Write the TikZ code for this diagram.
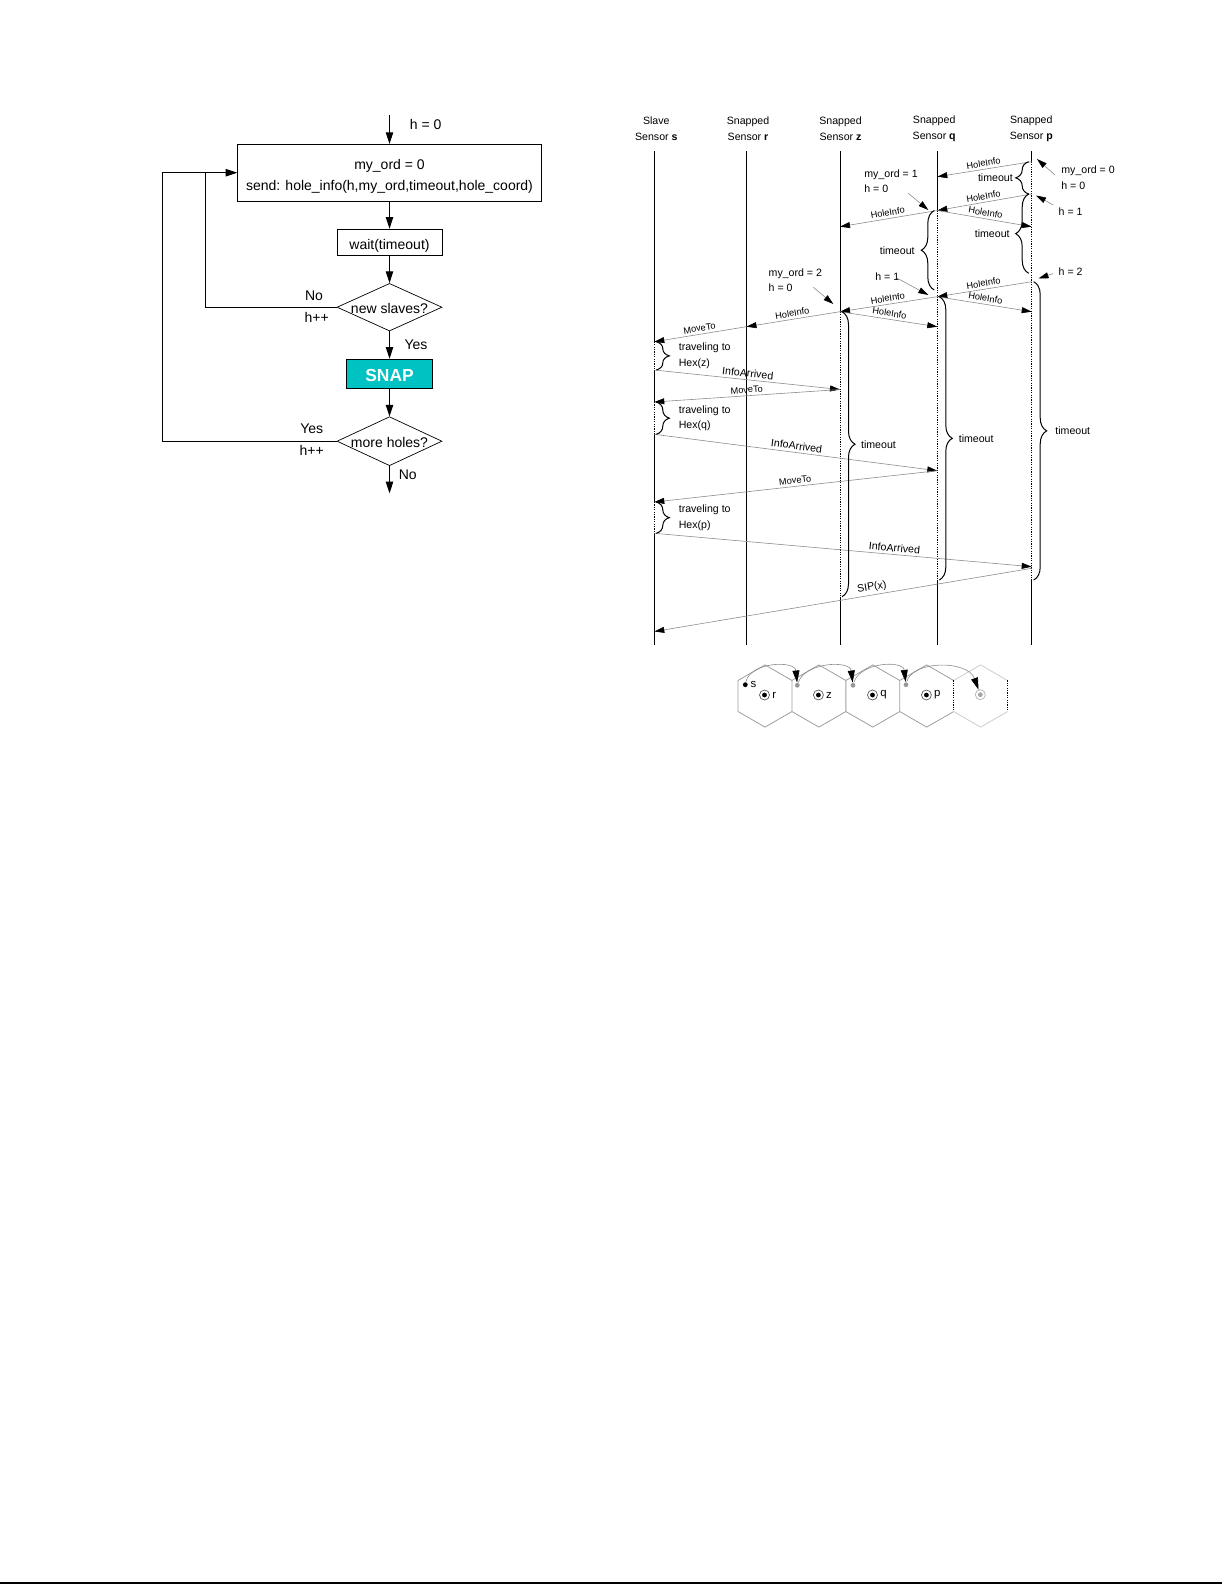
\documentclass[tikz,border=0pt]{standalone}
\usepackage{fontspec}
\setmainfont{Liberation Sans}
\usetikzlibrary{arrows.meta,shapes.geometric,decorations.pathreplacing,positioning}
\definecolor{snapcyan}{RGB}{0,194,194}

\begin{document}
\begin{tikzpicture}
	[x=0.5pt,y=-0.5pt,
	flow/.style={-{Triangle[length=5.8pt,width=3.7pt]},line width=0.5pt},
	box/.style={draw,line width=0.5pt,inner sep=0pt,font=\fontsize{7}{10.8}\selectfont},
	decision/.style={diamond,draw,line width=0.35pt,aspect=2.2,inner sep=0pt,
		text height=6pt,text depth=0pt,font=\fontsize{7}{8}\selectfont},
	note/.style={font=\fontsize{7}{8.4}\selectfont,inner sep=0pt},
	sensorhead/.style={align=center,font=\fontsize{5.3}{8.1}\selectfont},
	anno/.style={font=\fontsize{5.3}{7.8}\selectfont,inner sep=1pt},
	life/.style={line width=0.5pt},
	active/.style={line width=0.4pt,dash pattern=on 0.6pt off 0.6pt},
	msg/.style={draw=black!45,line width=0.3pt,-{Triangle[length=5pt,width=3pt,color=black]}},
	msglbl/.style={font=\fontsize{4.6}{5}\selectfont,inner sep=1.2pt},
	msgbig/.style={font=\fontsize{5.3}{6}\selectfont,inner sep=1.2pt},
	pointer/.style={draw=black!45,line width=0.3pt,-{Triangle[length=5pt,width=3pt,color=black]}},
	tbrace/.style={decorate,decoration={brace,amplitude=6.5pt},line width=0.5pt},
	hex/.style={draw=black!38,line width=0.4pt},
	hexoff/.style={draw=black!20,line width=0.4pt},
	blackdot/.style={circle,fill=black,inner sep=0pt,minimum size=2.4pt},
	greydot/.style={circle,fill=black!40,inner sep=0pt,minimum size=2.4pt},
	hexring/.style={circle,draw=black!65,line width=0.35pt,inner sep=0pt,minimum size=5pt,
		path picture={\fill (path picture bounding box.center) circle (1.2pt);}},
	greyring/.style={circle,draw=black!30,line width=0.35pt,inner sep=0pt,minimum size=5pt,
		path picture={\fill[black!35] (path picture bounding box.center) circle (1.2pt);}},
	hexlbl/.style={font=\fontsize{5.7}{6}\selectfont,inner sep=1pt},
	hop/.style={draw=black!45,line width=0.3pt,-{Triangle[length=6pt,width=3.5pt,color=black]}}]

	\useasboundingbox (0,0) rectangle (1225,1585);

	% flow chart of the snapped sensor
	\coordinate (start) at (389.5,115);
	\node[box,minimum width=151.7pt,minimum height=28.3pt,align=center,text height=18.1pt,text depth=0pt]
		(send) at (389.5,172.7) {my\_ord = 0\\send: hole\_info(h,my\_ord,timeout,hole\_coord)};
	\node[box,minimum width=52.5pt,minimum height=13pt,text height=7pt,text depth=0pt]
		(wait) at (389.5,242.3) {wait(timeout)};
	\node[decision,minimum width=52.5pt,minimum height=23.8pt] (slaves) at (389.5,307.2) {new slaves?};
	\node[box,fill=snapcyan,minimum width=42.7pt,minimum height=14.5pt,text=white,text height=7.7pt,
		text depth=0pt,font=\fontsize{8.7}{10}\selectfont\bfseries] (snap) at (389.5,373.8) {SNAP};
	\node[decision,minimum width=52.5pt,minimum height=24.5pt] (holes) at (389.5,441.2) {more holes?};
	\coordinate (stop) at (389.5,493.3);
	\coordinate (loopa) at (205.3,172.7);
	\coordinate (loopb) at (162.3,172.7);

	\draw[flow] (start) -- (send);
	\draw[flow] (send) -- (wait);
	\draw[flow] (wait) -- (slaves);
	\draw[flow] (slaves) -- (snap);
	\draw[flow] (snap) -- (holes);
	\draw[flow] (holes) -- (stop);
	\draw[line width=0.5pt] (slaves.west) -| (loopa);
	\draw[flow] (holes.west) -| (loopb) -- (send.west);

	\node[note] (hzero) at (425.7,124) {h = 0};
	\node[note] (no1) at (314,295.7) {No};
	\node[note] (inc1) at (316.7,317.3) {h++};
	\node[note] (yes1) at (416,344.3) {Yes};
	\node[note] (yes2) at (311.7,428.3) {Yes};
	\node[note] (inc2) at (311.7,450) {h++};
	\node[note] (no2) at (407.7,474.3) {No};

	% sequence of messages
	\def\xs{654.3}
	\def\xr{746.5}
	\def\xz{840}
	\def\xq{937.3}
	\def\xp{1031.7}

	\node[sensorhead] (hs) at (656.3,129) {Slave\\Sensor \textbf{s}};
	\node[sensorhead] (hr) at (748,129) {Snapped\\Sensor \textbf{r}};
	\node[sensorhead] (hz) at (840.5,129) {Snapped\\Sensor \textbf{z}};
	\node[sensorhead] (hq) at (934.2,129) {Snapped\\Sensor \textbf{q}};
	\node[sensorhead] (hp) at (1031.3,129) {Snapped\\Sensor \textbf{p}};

	\coordinate (s0) at (\xs,151);
	\coordinate (s1) at (\xs,341.7);
	\coordinate (s2) at (\xs,370);
	\coordinate (s3) at (\xs,402);
	\coordinate (s4) at (\xs,434.3);
	\coordinate (s5) at (\xs,502);
	\coordinate (s6) at (\xs,533.3);
	\coordinate (s7) at (\xs,631.5);
	\coordinate (s9) at (\xs,645);
	\coordinate (r0) at (\xr,151);
	\coordinate (r1) at (\xr,326.7);
	\coordinate (r9) at (\xr,645);
	\coordinate (z0) at (\xz,151);
	\coordinate (z1) at (\xz,226.7);
	\coordinate (z2) at (\xz,311.7);
	\coordinate (z3) at (\xz,389.5);
	\coordinate (z8) at (\xz,596.7);
	\coordinate (z9) at (\xz,645);
	\coordinate (q0) at (\xq,151);
	\coordinate (q1) at (\xq,176.7);
	\coordinate (q2) at (\xq,210.5);
	\coordinate (qw) at (\xq,290);
	\coordinate (q3) at (\xq,296.7);
	\coordinate (q4) at (\xq,326.7);
	\coordinate (q5) at (\xq,470.7);
	\coordinate (q8) at (\xq,580);
	\coordinate (q9) at (\xq,645);
	\coordinate (p0) at (\xp,151);
	\coordinate (p1) at (\xp,161.7);
	\coordinate (p2) at (\xp,194);
	\coordinate (p3) at (\xp,226.7);
	\coordinate (pw) at (\xp,273.3);
	\coordinate (p4) at (\xp,281.7);
	\coordinate (p5) at (\xp,311.7);
	\coordinate (p6) at (\xp,566.7);
	\coordinate (p7) at (\xp,568.3);
	\coordinate (p8) at (\xp,580);
	\coordinate (p9) at (\xp,645);

	% life lines
	\draw[life] (s0) -- (s1) (s2) -- (s3) (s4) -- (s5) (s6) -- (s9);
	\draw[active] (s1) -- (s2) (s3) -- (s4) (s5) -- (s6);
	\draw[life] (r0) -- (r9);
	\draw[life] (z0) -- (z2) (z8) -- (z9);
	\draw[active] (z2) -- (z8);
	\draw[life] (q0) -- (q2) (q8) -- (q9);
	\draw[active] (q2) -- (q8);
	\draw[life] (p0) -- (p1) (p8) -- (p9);
	\draw[active] (p1) -- (p8);

	% messages
	\draw[msg] (p1) -- (q1) node[midway,above,sloped,msglbl] (m1) {HoleInfo};
	\draw[msg] (p2) -- (q2) node[midway,above,sloped,msglbl] (m2) {HoleInfo};
	\draw[msg] (q2) -- (z1) node[midway,above,sloped,msglbl] (m3) {HoleInfo};
	\draw[msg] (q2) -- (p3) node[midway,above,sloped,msglbl] (m4) {HoleInfo};
	\draw[msg] (p4) -- (q3) node[midway,above,sloped,msglbl] (m5) {HoleInfo};
	\draw[msg] (q3) -- (z2) node[midway,above,sloped,msglbl] (m6) {HoleInfo};
	\draw[msg] (q3) -- (p5) node[midway,above,sloped,msglbl] (m7) {HoleInfo};
	\draw[msg] (z2) -- (r1) node[midway,above,sloped,msglbl] (m8) {HoleInfo};
	\draw[msg] (z2) -- (q4) node[midway,above,sloped,msglbl] (m9) {HoleInfo};
	\draw[msg] (r1) -- (s1) node[midway,above,sloped,msglbl] (m10) {MoveTo};
	\draw[msg] (s2) -- (z3) node[midway,above,sloped,msgbig] (m11) {InfoArrived};
	\draw[msg] (z3) -- (s3) node[midway,above,sloped,msglbl] (m12) {MoveTo};
	\draw[msg] (s4) -- (q5) node[midway,above,sloped,msgbig] (m13) {InfoArrived};
	\draw[msg] (q5) -- (s5) node[midway,above,sloped,msglbl] (m14) {MoveTo};
	\draw[msg] (s6) -- (p6) node[pos=0.635,above,sloped,msgbig] (m15) {InfoArrived};
	\draw[msg] (p7) -- (s7) node[pos=0.42,above,sloped,msgbig] (m16) {SIP(x)};

	% timeouts
	\draw[tbrace] ([xshift=-1.5pt]p2) -- ([xshift=-1.5pt]p1) node[midway,left=6.7pt,anno] (tp1) {timeout};
	\draw[tbrace] ([xshift=-1.5pt]pw) -- ([xshift=-1.5pt]p2) node[midway,left=8.3pt,anno] (tp2) {timeout};
	\draw[tbrace] ([xshift=-1.5pt]qw) -- ([xshift=-1.5pt]q2) node[midway,left=8.6pt,anno] (tq1) {timeout};
	\draw[tbrace] ([xshift=1pt]p4) -- ([xshift=1pt]p8) node[midway,right=9.6pt,anno] (tp3) {timeout};
	\draw[tbrace] ([xshift=1pt]q3) -- ([xshift=1pt]q8) node[midway,right=8.5pt,anno] (tq2) {timeout};
	\draw[tbrace,decoration={aspect=0.465}] ([xshift=1pt]z2) -- ([xshift=1pt]z8)
		node[pos=0.465,right=8.3pt,anno] (tz) {timeout};
	\draw[tbrace] ([xshift=1pt]s1) -- ([xshift=1pt]s2) node[midway,right=10pt,anno,align=left] (goz) {traveling to\\Hex(z)};
	\draw[tbrace] ([xshift=1pt]s3) -- ([xshift=1pt]s4) node[midway,right=10pt,anno,align=left] (goq) {traveling to\\Hex(q)};
	\draw[tbrace] ([xshift=1pt]s5) -- ([xshift=1pt]s6) node[midway,right=10pt,anno,align=left] (gop) {traveling to\\Hex(p)};

	% notes on the states
	\node[anno,align=left,anchor=west] (ordp) at (1059,177.8) {my\_ord = 0\\h = 0};
	\node[anno,anchor=west] (hp1) at (1056.3,211.7) {h = 1};
	\node[anno,anchor=west] (hp2) at (1056.3,271.7) {h = 2};
	\node[anno,align=left,anchor=west] (ordq) at (862,181.3) {my\_ord = 1\\h = 0};
	\node[anno,anchor=west] (hq1) at (873,276.7) {h = 1};
	\node[anno,align=left,anchor=west] (ordz) at (766.3,280.3) {my\_ord = 2\\h = 0};

	\coordinate (ordpfrom) at (1055,175);
	\coordinate (ordpto) at (1037,159);
	\coordinate (hp1from) at (1053.3,205);
	\coordinate (hp1to) at (1036,195.5);
	\coordinate (hp2from) at (1053.3,273.5);
	\coordinate (hp2to) at (1038.5,278.5);
	\coordinate (ordqfrom) at (908.3,193.3);
	\coordinate (ordqto) at (928.3,210);
	\coordinate (hq1from) at (897.3,278.3);
	\coordinate (hq1to) at (928.3,295);
	\coordinate (ordzfrom) at (813.3,287.3);
	\coordinate (ordzto) at (833.3,304);
	\draw[pointer] (ordpfrom) -- (ordpto);
	\draw[pointer] (hp1from) -- (hp1to);
	\draw[pointer] (hp2from) -- (hp2to);
	\draw[pointer] (ordqfrom) -- (ordqto);
	\draw[pointer] (hq1from) -- (hq1to);
	\draw[pointer] (ordzfrom) -- (ordzto);

	% hexagons
	\foreach \cx in {765,818.9,872.8,926.7}
		\draw[hex] (\cx+26.95,680.45) -- (\cx,664.9) -- (\cx-26.95,680.45) -- (\cx-26.95,711.55)
			-- (\cx,727.1) -- (\cx+26.95,711.55);
	\draw[hexoff] (953.65,680.45) -- (980.6,664.9) -- (1007.55,680.45);
	\draw[hexoff] (953.65,711.55) -- (980.6,727.1) -- (1007.55,711.55);
	\draw[active] (953.65,680.45) -- (953.65,711.55) (1007.55,680.45) -- (1007.55,711.55);

	\node[blackdot] (ds) at (745.3,684.7) {};
	\node[hexlbl,right=0pt of ds] (ls) {s};
	\node[hexring] (cr) at (764.5,695) {};
	\node[hexlbl,right=0pt of cr] (lr) {r};
	\node[hexring] (cz) at (818.4,695) {};
	\node[hexlbl,right=0pt of cz] (lz) {z};
	\node[hexring] (cq) at (872.5,695) {};
	\node[hexlbl,right=0pt of cq] (lq) {q};
	\node[hexring] (cp) at (926.4,695) {};
	\node[hexlbl,right=0pt of cp] (lp) {p};
	\node[greyring] (cn) at (980.3,694.7) {};
	\node[greydot] (w1) at (797.3,685.3) {};
	\node[greydot] (w2) at (853,685.3) {};
	\node[greydot] (w3) at (906,684.7) {};

	\draw[hop] (ds) .. controls (750,662) and (795,660) .. (w1);
	\draw[hop] (w1) .. controls (805,662) and (850,660) .. (w2);
	\draw[hop] (w2) .. controls (860,662) and (903,660) .. (w3);
	\draw[hop] (w3) .. controls (912,660) and (968,660) .. (cn);

	% page rule
	\draw[line width=1pt] (0,1583) -- (1222,1583);
\end{tikzpicture}
\end{document}
